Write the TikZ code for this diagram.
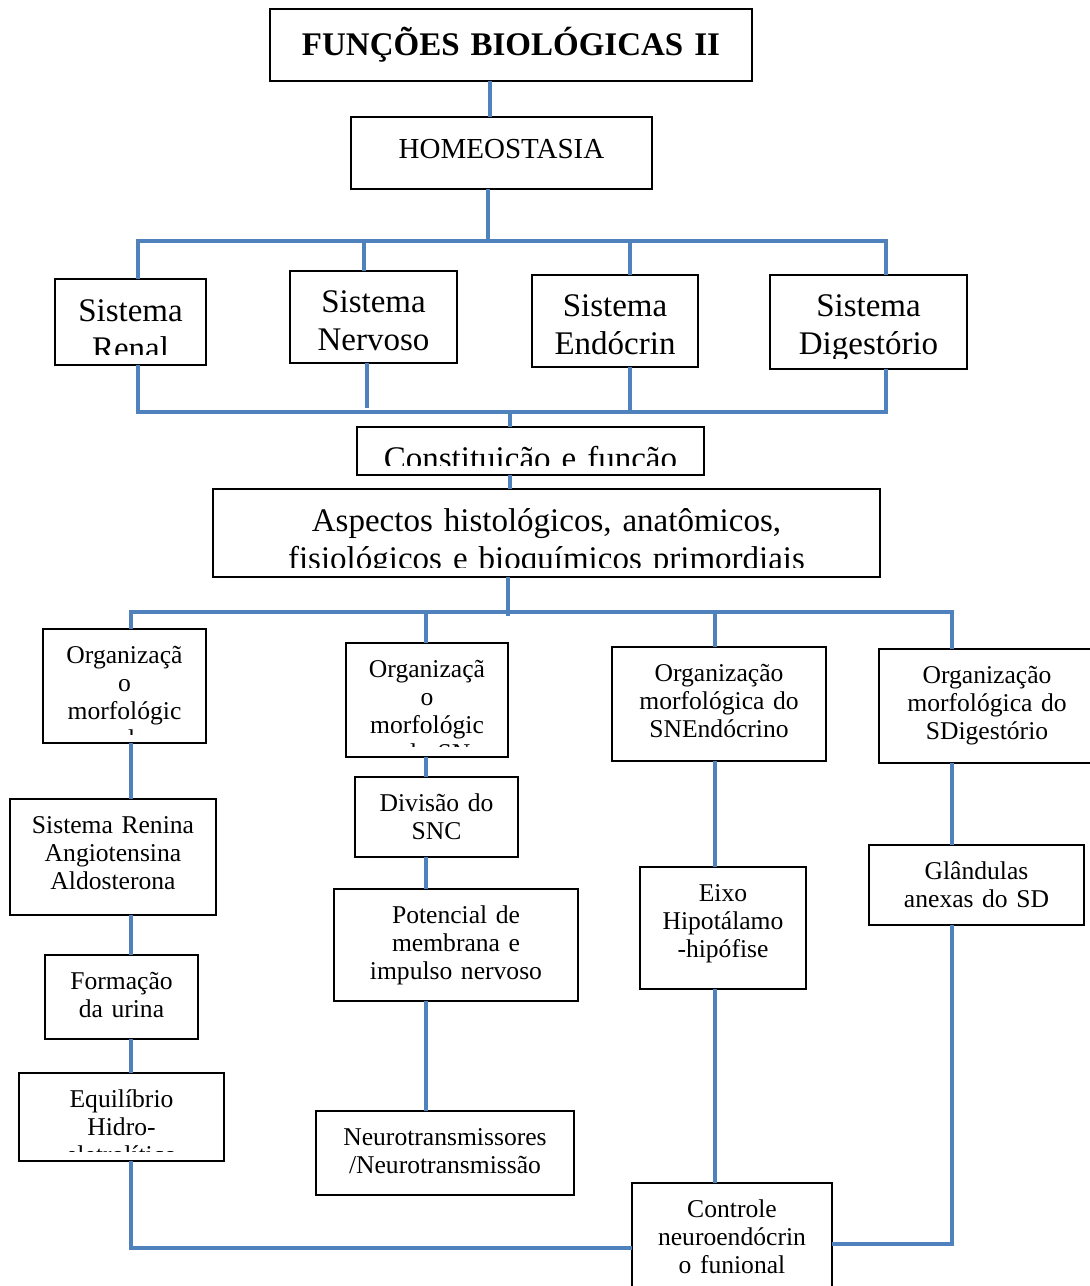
\documentclass[tikz,border=0pt]{standalone}
\usepackage{fontspec}
\setmainfont{Liberation Serif}
\definecolor{linkblue}{RGB}{79,129,189}
\tikzset{
  wbox/.style={draw=black, line width=1pt, fill=white, inner sep=0pt, outer sep=0pt},
  lbl/.style={inner sep=0pt, outer sep=0pt, anchor=base, align=center},
  link/.style={draw=linkblue, line width=2pt, line join=miter},
  titlef/.style={font={\bfseries\fontsize{16.5}{19}\selectfont\lineskiplimit=-20pt}},
  homef/.style={font={\fontsize{14.5}{17}\selectfont\lineskiplimit=-20pt}},
  bigf/.style={font={\fontsize{16.5}{19}\selectfont\lineskiplimit=-20pt}},
  smallf/.style={font={\fontsize{12.8}{14}\selectfont\lineskiplimit=-20pt}},
}
% \txtbox{name}{x1}{y1}{x2}{y2}{font style}{first baseline}{text cut line}{text}
\newcommand\txtbox[9]{%
  \pgfmathsetmacro\bxw{(#4-#2)*0.5}%
  \pgfmathsetmacro\bxh{(#5-#3)*0.5}%
  \node[wbox, minimum width=\bxw pt, minimum height=\bxh pt] (#1) at ({(#2+#4)/2},{(#3+#5)/2}) {};
  \begin{scope}
    \clip (#2,#3) rectangle (#4,#8);
    \node[lbl, #6, text width=\bxw pt] (#1-txt) at ({(#2+#4)/2},#7) {#9};
  \end{scope}}
\begin{document}
\begin{tikzpicture}[x=0.5pt, y=-0.5pt]
\fill[white] (0,0) rectangle (1090,1286);
\useasboundingbox (0,0) rectangle (1090,1286);

% header and systems
\txtbox{title}{270}{9}{752}{81}{titlef}{55}{81}{FUNÇÕES BIOLÓGICAS II}
\txtbox{homeo}{351}{117}{652}{189}{homef}{158}{189}{HOMEOSTASIA}
\txtbox{renal}{55}{279}{206}{365}{bigf}{321}{354}{Sistema\\Renal}
\txtbox{nerv}{290}{271}{457}{363}{bigf}{312}{361}{Sistema\\Nervoso}
\txtbox{endo}{532}{275}{698}{367}{bigf}{316}{363}{Sistema\\Endócrin}
\txtbox{dig}{770}{275}{967}{369}{bigf}{316}{358}{Sistema\\Digestório}
\txtbox{const}{357}{427}{704}{475}{bigf}{469}{465}{Constituição e função}
\txtbox{asp}{213}{489}{880}{577}{bigf}{531}{567}{Aspectos histológicos, anatômicos,\\fisiológicos e bioquímicos primordiais}

% morphology row
\txtbox{org1}{43}{629}{206}{743}{smallf}{663}{734}{Organizaçã\\o\\morfológic\\a do}
\txtbox{org2}{346}{643}{508}{757}{smallf}{677}{746}{Organizaçã\\o\\morfológic\\a do SN}
\txtbox{org3}{612}{647}{826}{761}{smallf}{681}{758}{Organização\\morfológica do\\SNEndócrino}
\txtbox{org4}{879}{649}{1095}{763}{smallf}{683}{760}{Organização\\morfológica do\\SDigestório}

% renal column
\txtbox{renina}{10}{799}{216}{915}{smallf}{833}{912}{Sistema Renina\\Angiotensina\\Aldosterona}
\txtbox{form}{45}{955}{198}{1039}{smallf}{989}{1036}{Formação\\da urina}
\txtbox{equil}{19}{1073}{224}{1161}{smallf}{1107}{1151}{Equilíbrio\\Hidro-\\eletrolítico}

% nervous column
\txtbox{div}{355}{777}{518}{857}{smallf}{811}{854}{Divisão do\\SNC}
\txtbox{pot}{334}{889}{578}{1001}{smallf}{923}{998}{Potencial de\\membrana e\\impulso nervoso}
\txtbox{neuro}{316}{1111}{574}{1195}{smallf}{1145}{1192}{Neurotransmissores\\/Neurotransmissão}

% endocrine and digestive columns
\txtbox{eixo}{640}{867}{806}{989}{smallf}{901}{986}{Eixo\\Hipotálamo\\-hipófise}
\txtbox{gland}{869}{845}{1084}{925}{smallf}{879}{922}{Glândulas\\anexas do SD}
\txtbox{ctrl}{632}{1183}{832}{1292}{smallf}{1217}{1292}{Controle\\neuroendócrin\\o funional}

% guide positions of the connector lines
\coordinate (xT) at (490,0);
\coordinate (xH) at (488,0);
\coordinate (xS1) at (138,0);
\coordinate (xS2) at (364,0);
\coordinate (xS3) at (630,0);
\coordinate (xS4) at (886,0);
\coordinate (xN2) at (367,0);
\coordinate (xC) at (510,0);
\coordinate (xA) at (508,0);
\coordinate (xL) at (131,0);
\coordinate (xM) at (426,0);
\coordinate (xE) at (715,0);
\coordinate (xD) at (952,0);
\coordinate (yB1) at (0,241);
\coordinate (yB2) at (0,412);
\coordinate (yB2s) at (0,408);
\coordinate (yB3) at (0,612);
\coordinate (yB3s) at (0,616);
\coordinate (yB4) at (0,1248);
\coordinate (yB4r) at (0,1244);

% connectors
\draw[link] (title.south -| xT) -- (homeo.north -| xT);
\draw[link] (homeo.south -| xH) -- (xH |- yB1);
\draw[link] (renal.north -| xS1) -- (xS1 |- yB1) -- (xS4 |- yB1) -- (dig.north -| xS4);
\draw[link] (xS2 |- yB1) -- (nerv.north -| xS2);
\draw[link] (xS3 |- yB1) -- (endo.north -| xS3);
\draw[link] (renal.south -| xS1) -- (xS1 |- yB2) -- (xS4 |- yB2) -- (dig.south -| xS4);
\draw[link] (nerv.south -| xN2) -- (xN2 |- yB2s);
\draw[link] (endo.south -| xS3) -- (xS3 |- yB2);
\draw[link] (xC |- yB2) -- (const.north -| xC);
\draw[link] (const.south -| xC) -- (asp.north -| xC);
\draw[link] (asp.south -| xA) -- (xA |- yB3s);
\draw[link] (org1.north -| xL) -- (xL |- yB3) -- (xD |- yB3) -- (org4.north -| xD);
\draw[link] (xM |- yB3) -- (org2.north -| xM);
\draw[link] (xE |- yB3) -- (org3.north -| xE);

\draw[link] (org1.south -| xL) -- (renina.north -| xL);
\draw[link] (renina.south -| xL) -- (form.north -| xL);
\draw[link] (form.south -| xL) -- (equil.north -| xL);
\draw[link] (equil.south -| xL) -- (xL |- yB4) -- (ctrl.west |- yB4);

\draw[link] (org2.south -| xM) -- (div.north -| xM);
\draw[link] (div.south -| xM) -- (pot.north -| xM);
\draw[link] (pot.south -| xM) -- (neuro.north -| xM);

\draw[link] (org3.south -| xE) -- (eixo.north -| xE);
\draw[link] (eixo.south -| xE) -- (ctrl.north -| xE);

\draw[link] (org4.south -| xD) -- (gland.north -| xD);
\draw[link] (gland.south -| xD) -- (xD |- yB4r) -- (ctrl.east |- yB4r);
\end{tikzpicture}
\end{document}
